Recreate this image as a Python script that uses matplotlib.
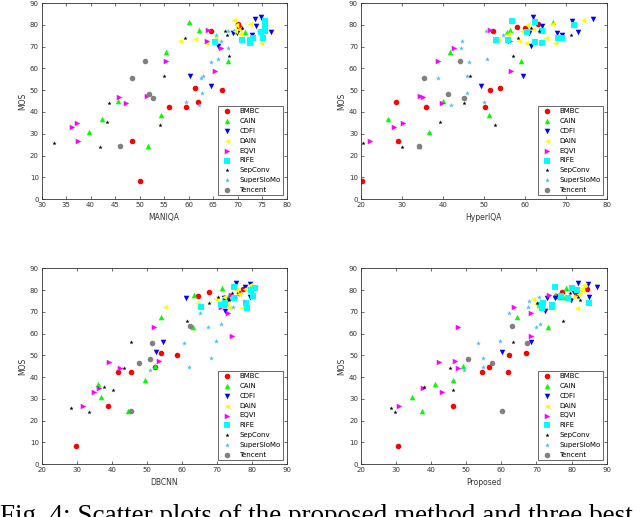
import matplotlib
matplotlib.use("Agg")
import matplotlib.pyplot as plt

# MOS values per method (same for every panel)
methods = ["BMBC", "CAIN", "CDFI", "DAIN", "EQVI", "RIFE", "SepConv", "SuperSloMo", "Tencent"]

mos_bmbc = [80.3, 79.2, 78.7, 77.4, 51.0, 50.2, 44.8, 42.2, 42.2, 26.8, 8.3]
mos_cain = [81.1, 77.7, 77.0, 76.7, 67.6, 63.2, 45.1, 38.6, 36.8, 30.7, 24.4]
mos_cdfi = [83.4, 82.8, 81.6, 79.7, 76.7, 76.2, 76.2, 75.4, 70.5, 56.3, 51.7]
mos_dain = [82.3, 80.3, 80.0, 78.0, 77.0, 75.8, 74.2, 73.4, 72.4, 71.9, 71.6]
mos_eqvi = [77.7, 72.4, 69.6, 63.2, 59.0, 47.5, 46.8, 44.3, 35.1, 33.3, 26.8]
mos_rife = [81.6, 81.1, 80.0, 77.3, 76.5, 73.9, 73.9, 73.1, 73.1, 72.1, 71.6]
mos_sepconv = [78.5, 77.0, 75.4, 73.9, 65.8, 56.3, 44.2, 35.3, 34.0, 25.6, 23.8]
mos_superslomo = [77.0, 75.2, 72.4, 69.6, 64.2, 62.9, 56.7, 55.5, 48.9, 44.5, 43.2]
mos_tencent = [63.5, 55.7, 48.1, 46.3, 24.5]

# MANIQA scores
maniqa_bmbc = [70.0, 70.3, 70.5, 64.6, 61.2, 66.8, 61.9, 55.9, 59.5, 48.5, 50.0]
maniqa_cain = [60.1, 62.1, 69.2, 71.4, 55.4, 68.0, 45.5, 54.4, 42.4, 39.7, 51.8]
maniqa_cdfi = [74.8, 73.6, 75.2, 73.8, 76.8, 69.0, 69.8, 72.9, 66.0, 60.2, 64.6]
maniqa_dain = [69.3, 72.5, 69.7, 70.2, 69.5, 70.4, 65.3, 61.2, 58.3, 63.6, 74.8]
maniqa_eqvi = [63.9, 63.7, 66.6, 55.4, 65.3, 51.5, 45.8, 47.3, 37.3, 36.1, 37.5]
maniqa_rife = [75.5, 75.6, 75.5, 75.6, 74.8, 73.1, 75.1, 70.9, 72.6, 65.3, 72.5]
maniqa_sepconv = [70.8, 67.5, 67.8, 59.2, 68.2, 54.9, 43.8, 43.4, 54.2, 32.6, 42.0]
maniqa_superslomo = [68.0, 65.5, 66.5, 68.0, 66.0, 64.6, 62.9, 62.6, 62.8, 59.5, 62.2]
maniqa_tencent = [51.0, 48.5, 52.0, 52.7, 46.0]

# HyperIQA scores
hyper_bmbc = [63.3, 58.0, 60.1, 52.2, 54.0, 51.5, 28.6, 35.9, 50.2, 29.0, 20.4]
hyper_cain = [67.0, 56.3, 60.5, 55.6, 41.8, 59.1, 40.0, 51.4, 26.6, 36.7, 34.2]
hyper_cdfi = [62.0, 76.6, 71.5, 64.1, 73.1, 61.1, 67.8, 69.0, 61.5, 59.7, 49.3]
hyper_dain = [74.1, 66.7, 60.5, 62.0, 59.3, 56.0, 65.2, 53.5, 58.7, 60.3, 67.4]
hyper_eqvi = [51.5, 56.4, 42.8, 38.9, 56.6, 34.5, 35.3, 39.8, 30.2, 28.2, 22.3]
hyper_rife = [56.8, 62.5, 71.9, 64.1, 60.5, 68.2, 69.2, 53.0, 55.9, 62.5, 64.1]
hyper_sepconv = [61.5, 63.5, 71.2, 58.3, 57.1, 46.7, 45.3, 39.4, 52.8, 20.6, 30.0]
hyper_superslomo = [50.5, 54.6, 44.6, 44.5, 50.9, 46.3, 45.9, 38.8, 45.9, 50.1, 42.0]
hyper_tencent = [44.1, 35.4, 41.4, 45.3, 34.1]

# DBCNN scores
dbcnn_bmbc = [77.6, 67.8, 76.3, 64.6, 54.0, 58.7, 52.5, 41.8, 45.5, 39.0, 29.8]
dbcnn_cain = [71.6, 63.4, 73.2, 72.0, 54.0, 63.2, 52.5, 49.6, 36.0, 37.1, 44.7]
dbcnn_cdfi = [75.4, 79.4, 78.2, 79.5, 79.4, 61.1, 72.0, 73.0, 72.5, 54.7, 52.8]
dbcnn_dain = [79.5, 78.2, 75.6, 76.5, 72.2, 69.7, 64.4, 73.0, 55.1, 77.2, 73.5]
dbcnn_eqvi = [74.1, 71.3, 73.2, 52.1, 74.3, 53.5, 39.3, 42.3, 36.4, 34.9, 31.9]
dbcnn_rife = [75.0, 80.8, 79.8, 80.5, 75.0, 78.4, 72.5, 71.1, 72.2, 65.4, 78.6]
dbcnn_sepconv = [74.3, 70.3, 73.5, 67.7, 61.5, 45.5, 43.6, 37.8, 40.4, 28.5, 33.6]
dbcnn_superslomo = [75.5, 77.7, 74.6, 65.3, 71.3, 67.5, 69.7, 60.8, 68.4, 62.1, 50.9]
dbcnn_tencent = [62.3, 51.6, 50.9, 47.8, 45.5]

# Proposed scores
prop_bmbc = [84.3, 77.2, 81.3, 75.6, 66.9, 62.3, 56.5, 54.4, 62.0, 46.2, 30.7]
prop_cain = [78.4, 75.3, 78.2, 76.7, 64.4, 73.4, 49.0, 46.4, 41.2, 34.5, 37.4]
prop_cdfi = [81.7, 84.8, 87.2, 80.5, 85.1, 73.0, 75.3, 79.9, 72.5, 68.5, 60.1]
prop_dain = [83.4, 82.6, 83.0, 82.0, 80.5, 69.1, 74.4, 70.0, 70.5, 81.5, 74.4]
prop_eqvi = [73.7, 63.5, 68.4, 47.6, 68.4, 46.7, 42.4, 47.8, 37.6, 43.1, 31.0]
prop_rife = [75.3, 80.1, 81.5, 77.0, 79.1, 85.1, 71.8, 71.0, 74.4, 74.4, 71.5]
prop_sepconv = [79.6, 81.8, 82.4, 70.3, 77.7, 63.3, 45.4, 38.0, 46.4, 28.5, 29.8]
prop_superslomo = [70.6, 68.0, 67.7, 62.3, 71.0, 69.9, 59.7, 53.5, 54.9, 54.9, 49.5]
prop_tencent = [63.0, 67.2, 50.5, 57.5, 60.1]

mos_all = [mos_bmbc, mos_cain, mos_cdfi, mos_dain, mos_eqvi, mos_rife,
           mos_sepconv, mos_superslomo, mos_tencent]

colors = ["#ff0000", "#00ff00", "#0000ff", "#ffff00", "#ff00ff", "#00ffff",
          "#000000", "#4dbeee", "#808080"]
markers = ["o", "^", "v", "<", ">", "s", "*", "*", "o"]
sizes = [16, 16, 16, 16, 16, 13, 10, 14, 16]

panels = [
    ("MANIQA", [maniqa_bmbc, maniqa_cain, maniqa_cdfi, maniqa_dain, maniqa_eqvi,
                maniqa_rife, maniqa_sepconv, maniqa_superslomo, maniqa_tencent],
     (30, 80), range(30, 81, 5), [0.065, 0.615, 0.383, 0.379]),
    ("HyperIQA", [hyper_bmbc, hyper_cain, hyper_cdfi, hyper_dain, hyper_eqvi,
                  hyper_rife, hyper_sepconv, hyper_superslomo, hyper_tencent],
     (20, 80), range(20, 81, 10), [0.5636, 0.615, 0.3844, 0.379]),
    ("DBCNN", [dbcnn_bmbc, dbcnn_cain, dbcnn_cdfi, dbcnn_dain, dbcnn_eqvi,
               dbcnn_rife, dbcnn_sepconv, dbcnn_superslomo, dbcnn_tencent],
     (20, 90), range(20, 91, 10), [0.065, 0.1025, 0.383, 0.3785]),
    ("Proposed", [prop_bmbc, prop_cain, prop_cdfi, prop_dain, prop_eqvi,
                  prop_rife, prop_sepconv, prop_superslomo, prop_tencent],
     (20, 90), range(20, 91, 10), [0.5636, 0.1025, 0.3844, 0.3785]),
]

fig = plt.figure(figsize=(6.4, 5.17), dpi=100)

for xlabel, xs_all, xlim, xticks, rect in panels:
    ax = fig.add_axes(rect)
    for name, xs, ys, c, m, s in zip(methods, xs_all, mos_all, colors, markers, sizes):
        ax.scatter(xs, ys, s=s, c=c, marker=m, linewidths=0, label=name)
    ax.set_xlim(*xlim)
    ax.set_ylim(0, 90)
    ax.set_xticks(list(xticks))
    ax.set_yticks(range(0, 91, 10))
    ax.tick_params(direction="in", top=True, right=True, length=2.5, width=0.5,
                   labelsize=5, colors="#333333", pad=2)
    for sp in ax.spines.values():
        sp.set_linewidth(0.6)
        sp.set_color("#333333")
    ax.set_xlabel(xlabel, fontsize=5.5, color="#333333", labelpad=4)
    ax.set_ylabel("MOS", fontsize=5.5, color="#333333", labelpad=2)
    leg = ax.legend(loc="lower right", fontsize=5, frameon=True, fancybox=False,
                    edgecolor="#222222", borderpad=0.3, labelspacing=0.55,
                    handletextpad=0.8, borderaxespad=0.6, markerscale=1.0)
    leg.get_frame().set_linewidth(0.6)

# caption is cut by the lower edge, as in the source page
fig.text(0.0, -0.012, "Fig. 4: Scatter plots of the proposed method and three best",
         fontsize=19.5, family="Liberation Serif", va="baseline", ha="left")

fig.savefig("out.png", dpi=100)
